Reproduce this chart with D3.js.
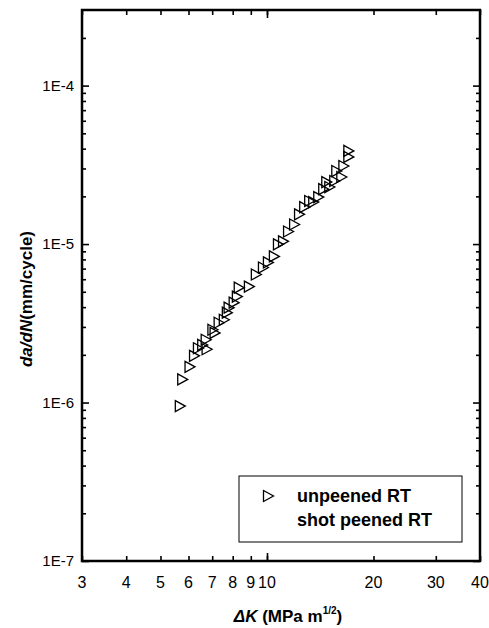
<!DOCTYPE html>
<html lang="en">
<head>
    <meta charset="UTF-8">
    <title>da/dN vs dK</title>
    <script src="https://cdn.jsdelivr.net/npm/d3@7"></script>
    <style>
        body { margin: 0; background: #fff; }
        text { font-family: "Liberation Sans", Arial, sans-serif; fill: #000; }
    </style>
</head>
<body>
<div id="d3"></div>
<script>
    // unpeened RT
    var deltaK = [5.67, 5.76, 6.04, 6.22, 6.38, 6.56, 6.75, 6.71, 7.01, 7.11, 7.30, 7.55, 7.70, 7.79,
        8.05, 8.22, 8.32, 8.89, 9.30, 9.74, 10.06, 10.46, 10.74, 11.10, 11.47, 11.93, 12.32, 12.74,
        13.16, 13.51, 13.96, 14.42, 14.71, 15.0, 15.49, 15.70, 16.22, 16.44, 16.98, 16.98];
    var dadN = [9.5e-7, 1.40e-6, 1.68e-6, 1.97e-6, 2.20e-6, 2.31e-6, 2.17e-6, 2.49e-6, 2.88e-6, 2.75e-6,
        3.19e-6, 3.33e-6, 3.69e-6, 3.97e-6, 4.27e-6, 4.66e-6, 5.31e-6, 5.39e-6, 6.43e-6, 7.11e-6,
        7.66e-6, 8.36e-6, 9.96e-6, 1.04e-5, 1.20e-5, 1.33e-5, 1.54e-5, 1.71e-5, 1.87e-5, 1.84e-5,
        1.98e-5, 2.22e-5, 2.46e-5, 2.29e-5, 2.50e-5, 2.89e-5, 2.65e-5, 3.11e-5, 3.87e-5, 3.55e-5];

    var xTicks = [3, 4, 5, 6, 7, 8, 9, 10, 20, 30, 40];
    var xTickLabels = ["3", "4", "5", "6", "7", "8", "9", "10", "20", "30", "40"];
    var yMajor = [1e-7, 1e-6, 1e-5, 1e-4];
    var yTickLabels = ["1E-7", "1E-6", "1E-5", "1E-4"];
    var legendLabels = ["unpeened RT", "shot peened RT"];

    var width = 489;
    var height = 628;
    var plot = {left: 82, right: 480, top: 10, bottom: 561};

    var svg = d3.select("#d3")
            .append("svg")
            .attr("width", width)
            .attr("height", height);

    var xScale = d3.scaleLog()
            .domain([3, 40])
            .range([plot.left, plot.right]);

    var yScale = d3.scaleLog()
            .domain([1e-7, 3e-4])
            .range([plot.bottom, plot.top]);

    // minor ticks for y: 2..9 in every decade
    var yMinor = [];
    yMajor.forEach(function (d) {
        for (var k = 2; k <= 9; k++) {
            if (d * k <= 3e-4) yMinor.push(d * k);
        }
    });

    var w = plot.right - plot.left;
    var h = plot.bottom - plot.top;

    // ticks point into the frame on all four sides
    var gLeft = svg.append("g").attr("transform", "translate(" + plot.left + ",0)");
    gLeft.call(d3.axisRight(yScale).tickValues(yMajor).tickSize(7).tickFormat(""));
    gLeft.append("g").call(d3.axisRight(yScale).tickValues(yMinor).tickSize(4).tickFormat(""));

    var gRight = svg.append("g").attr("transform", "translate(" + plot.right + ",0)");
    gRight.call(d3.axisLeft(yScale).tickValues(yMajor).tickSize(7).tickFormat(""));
    gRight.append("g").call(d3.axisLeft(yScale).tickValues(yMinor).tickSize(4).tickFormat(""));

    var gBottom = svg.append("g").attr("transform", "translate(0," + plot.bottom + ")");
    gBottom.call(d3.axisTop(xScale).tickValues(xTicks).tickSize(5).tickFormat(""));
    gBottom.append("g").call(d3.axisTop(xScale).tickValues([10]).tickSize(8).tickFormat(""));

    var gTop = svg.append("g").attr("transform", "translate(0," + plot.top + ")");
    gTop.call(d3.axisBottom(xScale).tickValues(xTicks).tickSize(5).tickFormat(""));
    gTop.append("g").call(d3.axisBottom(xScale).tickValues([10]).tickSize(8).tickFormat(""));

    svg.selectAll(".domain").remove();
    svg.selectAll(".tick line").attr("stroke", "#000").attr("stroke-width", 1.6);

    // frame
    svg.append("rect")
            .attr("x", plot.left)
            .attr("y", plot.top)
            .attr("width", w)
            .attr("height", h)
            .attr("fill", "none")
            .attr("stroke", "#000")
            .attr("stroke-width", 2.5);

    // tick labels
    svg.selectAll(".ylab")
            .data(yMajor)
            .enter()
            .append("text")
            .attr("class", "ylab")
            .attr("x", plot.left - 8)
            .attr("y", function (d) { return yScale(d); })
            .attr("dy", "0.35em")
            .attr("text-anchor", "end")
            .style("font-size", "15px")
            .text(function (d, i) { return yTickLabels[i]; });

    svg.selectAll(".xlab")
            .data(xTicks)
            .enter()
            .append("text")
            .attr("class", "xlab")
            .attr("x", function (d) { return xScale(d); })
            .attr("y", plot.bottom + 27)
            .attr("text-anchor", "middle")
            .style("font-size", "16px")
            .text(function (d, i) { return xTickLabels[i]; });

    // axis titles
    var xTitle = svg.append("text")
            .attr("x", 288)
            .attr("y", 622)
            .attr("text-anchor", "middle")
            .style("font-size", "17px")
            .style("font-weight", "bold");
    xTitle.append("tspan").style("font-style", "italic").text("ΔK");
    xTitle.append("tspan").text(" (MPa m");
    xTitle.append("tspan").attr("dy", -8).style("font-size", "10px").text("1/2");
    xTitle.append("tspan").attr("dy", 8).text(")");

    var yTitle = svg.append("text")
            .attr("transform", "translate(32,299) rotate(-90)")
            .attr("text-anchor", "middle")
            .style("font-size", "17px")
            .style("font-weight", "bold");
    yTitle.append("tspan").style("font-style", "italic").text("da/dN");
    yTitle.append("tspan").text("(mm/cycle)");

    // right pointing triangle
    var tri = "M-4.5,-5.5 L5.5,0 L-4.5,5.5 Z";

    svg.append("g")
            .selectAll("path")
            .data(deltaK)
            .enter()
            .append("path")
            .attr("d", tri)
            .attr("transform", function (d, i) {
                return "translate(" + xScale(d) + "," + yScale(dadN[i]) + ")";
            })
            .attr("fill", "none")
            .attr("stroke", "#000")
            .attr("stroke-width", 1.3);

    // legend
    var legend = svg.append("g");
    legend.append("rect")
            .attr("x", 239)
            .attr("y", 476)
            .attr("width", 223)
            .attr("height", 66)
            .attr("fill", "#fff")
            .attr("stroke", "#000")
            .attr("stroke-width", 1);
    legend.append("path")
            .attr("d", tri)
            .attr("transform", "translate(268,496)")
            .attr("fill", "none")
            .attr("stroke", "#000")
            .attr("stroke-width", 1.3);
    legend.selectAll(".leg")
            .data(legendLabels)
            .enter()
            .append("text")
            .attr("class", "leg")
            .attr("x", 297)
            .attr("y", function (d, i) { return 496 + i * 24; })
            .attr("dy", "0.35em")
            .style("font-size", "18px")
            .style("font-weight", "bold")
            .text(function (d) { return d; });
</script>
</body>
</html>
